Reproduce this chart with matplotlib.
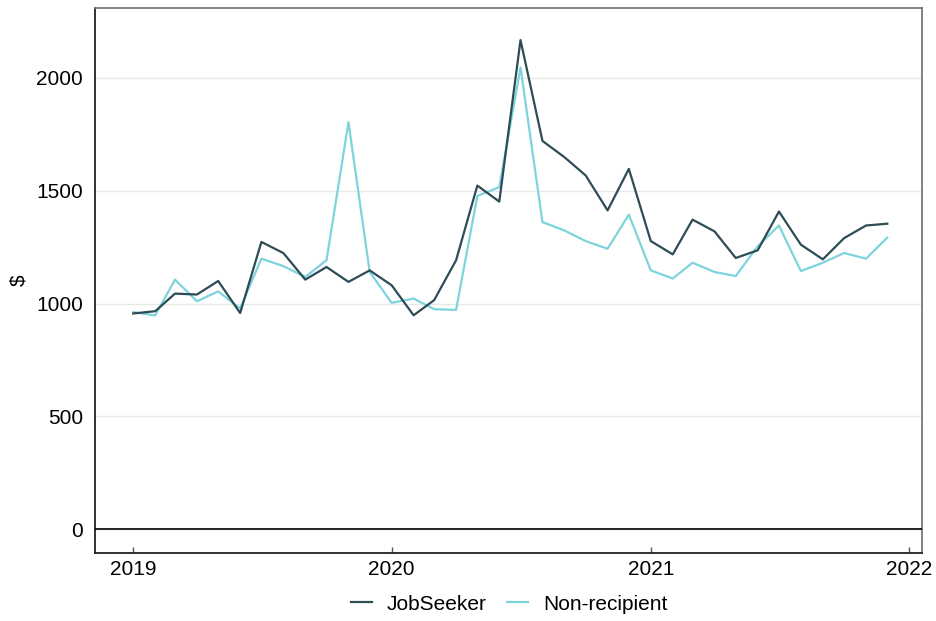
import matplotlib
matplotlib.use("Agg")
import matplotlib.pyplot as plt
import matplotlib.dates as mdates
import numpy as np
import pandas as pd

plt.rcParams['font.family'] = ['Liberation Sans', 'DejaVu Sans']

months = pd.date_range("2019-01-01", periods=36, freq="MS")

jobseeker = [956, 966, 1044, 1040, 1100, 958, 1273, 1224, 1106, 1162, 1096, 1147,
             1081, 948, 1015, 1192, 1523, 1452, 2168, 1721, 1649, 1568, 1413, 1597,
             1277, 1218, 1372, 1320, 1202, 1236, 1408, 1261, 1196, 1290, 1346, 1354]
non_recipient = [962, 947, 1106, 1010, 1054, 978, 1199, 1166, 1118, 1192, 1804, 1140,
                 1003, 1022, 975, 972, 1477, 1516, 2047, 1361, 1324, 1277, 1243, 1394,
                 1147, 1111, 1181, 1140, 1122, 1254, 1346, 1144, 1181, 1224, 1199, 1292]

dark = "#2d4c55"
light = "#7dd4dc"

fig = plt.figure(figsize=(9.36, 6.21), dpi=100)
ax = fig.add_axes([0.1015, 0.1095, 0.8835, 0.8775])

ax.plot(months, jobseeker, color=dark, lw=1.6, label="JobSeeker", zorder=3)
ax.plot(months, non_recipient, color=light, lw=1.6, label="Non-recipient", zorder=2)

ax.axhline(0, color="black", lw=1.2, zorder=4)
ax.set_ylim(-106, 2310)
ax.set_yticks([0, 500, 1000, 1500, 2000])
ax.yaxis.grid(True, color="#e8e8e8", lw=1)
ax.set_axisbelow(True)

ax.set_xlim(pd.Timestamp("2018-11-08"), pd.Timestamp("2022-01-19"))
ax.xaxis.set_major_locator(mdates.YearLocator())
ax.xaxis.set_major_formatter(mdates.DateFormatter("%Y"))

ax.tick_params(axis="x", direction="in", length=4, width=1, color="#555555",
               labelsize=15, pad=5)
ax.tick_params(axis="y", length=0, labelsize=15, pad=8.5)
ax.set_ylabel(r"\$", fontsize=15)
ax.yaxis.set_label_coords(-0.081, 0.5)

for side in ["left", "bottom"]:
    ax.spines[side].set_color("#222222")
    ax.spines[side].set_linewidth(1.3)
for side in ["top", "right"]:
    ax.spines[side].set_color("#777777")
    ax.spines[side].set_linewidth(1.3)

fig.legend(loc="center", bbox_to_anchor=(0.544, 0.027), ncol=2, frameon=False,
           fontsize=15, handlelength=1.0, columnspacing=1.0, handletextpad=0.7)

fig.savefig("out.png", dpi=100)
